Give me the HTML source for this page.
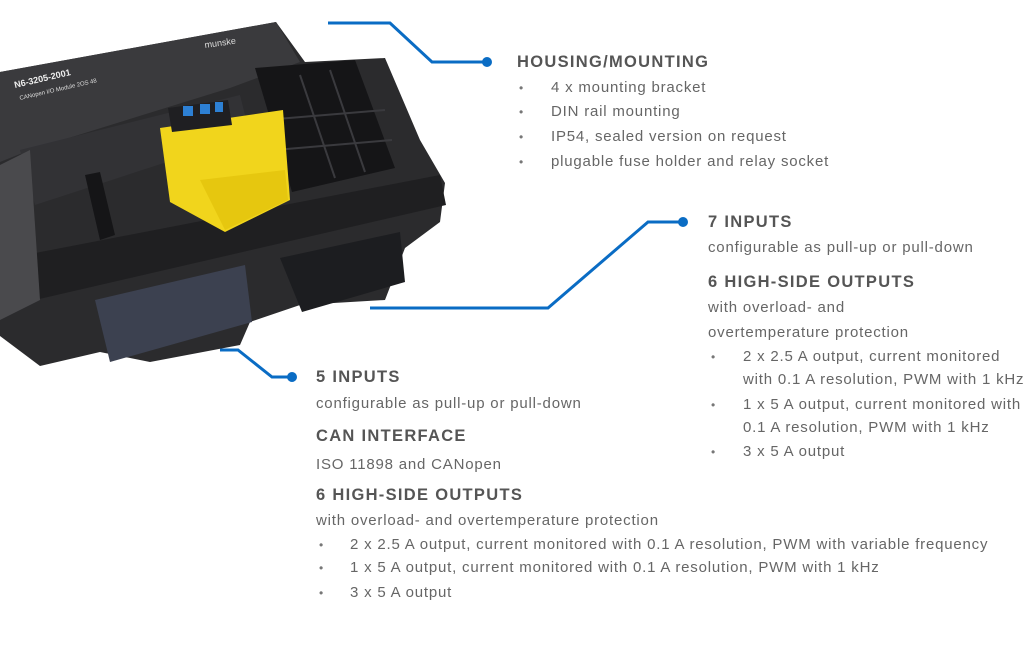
<!DOCTYPE html>
<html><head><meta charset="utf-8"><style>
html,body{margin:0;padding:0;background:#fff;}
body{width:1023px;height:663px;position:relative;overflow:hidden;font-family:"Liberation Sans",sans-serif;color:#666;}
.t{position:absolute;white-space:nowrap;font-size:15px;letter-spacing:0.8px;line-height:18px;}
.h{position:absolute;white-space:nowrap;font-size:16.5px;font-weight:bold;color:#555;line-height:20px;letter-spacing:1.3px;}
.b{position:absolute;font-size:12px;line-height:18px;color:#777;}
</style></head><body>
<svg width="1023" height="663" style="position:absolute;left:0;top:0">
 <polygon points="0,72 276,22 305,62 385,58 420,140 445,183 440,222 405,248 385,300 300,305 250,322 240,345 150,362 100,352 40,366 0,336" fill="#2b2b2d"/>
 <polygon points="0,72 276,22 300,62 230,88 30,150 0,162" fill="#3a3a3d"/>
 <polygon points="20,150 240,95 250,135 35,205" fill="#323235"/>
 <polygon points="25,255 440,175 446,205 35,300" fill="#1f1f21"/>
 <polygon points="0,165 30,150 40,300 0,320" fill="#4a4a4d"/>
 <polygon points="95,300 245,265 252,322 110,362" fill="#3c4150"/>
 <polygon points="280,258 400,232 405,282 302,312" fill="#1c1d20"/>
 <polygon points="255,68 355,60 395,168 292,192" fill="#151517"/>
 <g stroke="#3a3a3e" stroke-width="2"><line x1="300" y1="75" x2="335" y2="178"/><line x1="330" y1="70" x2="365" y2="172"/><line x1="265" y1="120" x2="385" y2="110"/><line x1="275" y1="150" x2="392" y2="140"/></g>
 <polygon points="160,128 283,110 290,200 225,232 170,202" fill="#f1d51c"/>
 <polygon points="200,180 285,170 288,200 225,230" fill="#e6c70f"/>
 <polygon points="168,108 228,100 232,125 172,132" fill="#1f1f22"/>
 <rect x="183" y="106" width="10" height="10" fill="#2d80d4"/><rect x="200" y="104" width="10" height="10" fill="#2d80d4"/><rect x="215" y="102" width="8" height="10" fill="#2d80d4"/>
 <polygon points="85,175 100,172 115,235 100,240" fill="#151517"/>
 <text x="15" y="88" font-family="Liberation Sans" font-size="9" font-weight="bold" fill="#eee" transform="rotate(-13 15 88)">N6-3205-2001</text>
 <text x="20" y="100" font-family="Liberation Sans" font-size="6" fill="#ddd" transform="rotate(-13 20 100)">CANopen I/O Module 2OS 48</text>
 <text x="205" y="48" font-family="Liberation Sans" font-size="9" fill="#ddd" transform="rotate(-8 205 48)">munske</text>
 <g stroke="#0a6cc4" stroke-width="3" fill="none">
  <polyline points="328,23 390,23 432,62 487,62"/>
  <polyline points="370,308 548,308 648,222 682,222"/>
  <polyline points="220,350 238,350 272,377 292,377"/>
 </g>
 <g fill="#0a6cc4"><circle cx="487" cy="62" r="5"/><circle cx="683" cy="222" r="5"/><circle cx="292" cy="377" r="5"/></g>
</svg>

<div class="h" style="left:517px;top:52px">HOUSING/MOUNTING</div>
<div class="b" style="left:519px;top:79px">•</div><div class="t" style="left:551px;top:79px">4 x mounting bracket</div>
<div class="b" style="left:519px;top:103px">•</div><div class="t" style="left:551px;top:103px">DIN rail mounting</div>
<div class="b" style="left:519px;top:128px">•</div><div class="t" style="left:551px;top:128px">IP54, sealed version on request</div>
<div class="b" style="left:519px;top:153px">•</div><div class="t" style="left:551px;top:153px">plugable fuse holder and relay socket</div>

<div class="h" style="left:708px;top:212px">7 INPUTS</div>
<div class="t" style="left:708px;top:239px">configurable as pull-up or pull-down</div>
<div class="h" style="left:708px;top:272px">6 HIGH-SIDE OUTPUTS</div>
<div class="t" style="left:708px;top:299px">with overload- and</div>
<div class="t" style="left:708px;top:324px">overtemperature protection</div>
<div class="b" style="left:711px;top:348px">•</div><div class="t" style="left:743px;top:348px">2 x 2.5 A output, current monitored</div>
<div class="t" style="left:743px;top:371px">with 0.1 A resolution, PWM with 1 kHz</div>
<div class="b" style="left:711px;top:396px">•</div><div class="t" style="left:743px;top:396px">1 x 5 A output, current monitored with</div>
<div class="t" style="left:743px;top:419px">0.1 A resolution, PWM with 1 kHz</div>
<div class="b" style="left:711px;top:443px">•</div><div class="t" style="left:743px;top:443px">3 x 5 A output</div>

<div class="h" style="left:316px;top:367px">5 INPUTS</div>
<div class="t" style="left:316px;top:395px">configurable as pull-up or pull-down</div>
<div class="h" style="left:316px;top:426px">CAN INTERFACE</div>
<div class="t" style="left:316px;top:456px">ISO 11898 and CANopen</div>
<div class="h" style="left:316px;top:485px">6 HIGH-SIDE OUTPUTS</div>
<div class="t" style="left:316px;top:512px">with overload- and overtemperature protection</div>
<div class="b" style="left:319px;top:536px">•</div><div class="t" style="left:350px;top:536px">2 x 2.5 A output, current monitored with 0.1 A resolution, PWM with variable frequency</div>
<div class="b" style="left:319px;top:559px">•</div><div class="t" style="left:350px;top:559px">1 x 5 A output, current monitored with 0.1 A resolution, PWM with 1 kHz</div>
<div class="b" style="left:319px;top:584px">•</div><div class="t" style="left:350px;top:584px">3 x 5 A output</div>
</body></html>
